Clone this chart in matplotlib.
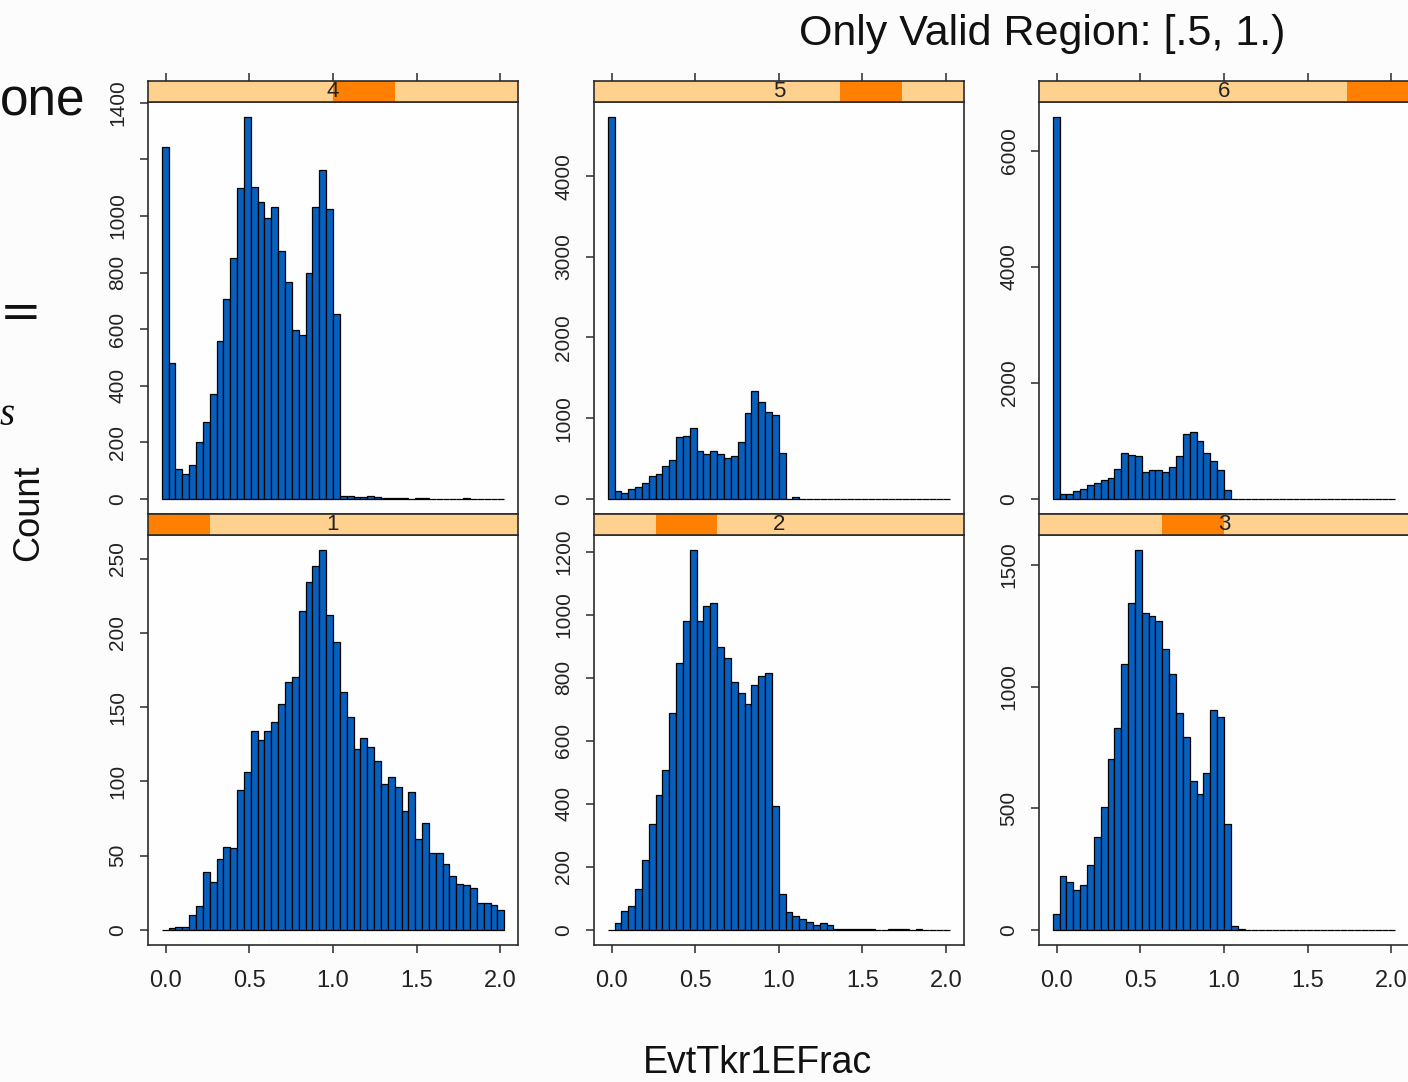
import numpy as np
import matplotlib
matplotlib.use("Agg")
import matplotlib.pyplot as plt
from matplotlib.patches import Rectangle

W, H, DPI = 1408, 1082, 100

# Histogram breaks shared by every panel: 50 equal-width bins
bin_lo, bin_hi, n_bins = -0.024, 2.024, 50

# Counts per bin for the six shingle levels of the conditioning variable
counts_1 = [0, 1, 2, 2, 10, 16, 39, 32, 48, 56,
            55, 94, 106, 134, 128, 134, 140, 152, 167, 170,
            215, 234, 245, 256, 212, 194, 160, 143, 122, 129,
            123, 114, 98, 103, 96, 80, 93, 61, 72, 52,
            52, 44, 36, 31, 30, 28, 18, 18, 17, 13]
counts_2 = [0, 21, 59, 76, 131, 221, 335, 427, 506, 687,
            847, 981, 1206, 981, 1026, 1036, 896, 861, 787, 751,
            716, 777, 806, 816, 392, 115, 55, 45, 35, 25,
            15, 20, 15, 3, 2, 3, 2, 3, 2, 0,
            0, 2, 3, 2, 0, 2, 0, 0, 0, 0]
counts_3 = [67, 222, 195, 162, 184, 267, 383, 507, 702, 831,
            1091, 1342, 1563, 1303, 1292, 1271, 1155, 1052, 890, 793,
            611, 558, 643, 904, 876, 435, 14, 5, 0, 0,
            0, 0, 0, 0, 0, 0, 0, 0, 0, 0,
            0, 0, 0, 0, 0, 0, 0, 0, 0, 0]
counts_4 = [1243, 480, 106, 88, 121, 200, 273, 369, 557, 708,
            852, 1098, 1349, 1104, 1048, 992, 1031, 876, 765, 597,
            580, 798, 1031, 1161, 1025, 652, 9, 9, 5, 5,
            9, 5, 1, 3, 3, 3, 0, 3, 3, 0,
            0, 0, 0, 0, 3, 0, 0, 0, 0, 0]
counts_5 = [4731, 95, 70, 116, 140, 194, 277, 310, 409, 483,
            760, 777, 880, 587, 550, 587, 550, 508, 525, 707,
            1058, 1331, 1194, 1074, 1033, 566, 0, 20, 0, 0,
            0, 0, 0, 0, 0, 0, 0, 0, 0, 0,
            0, 0, 0, 0, 0, 0, 0, 0, 0, 0]
counts_6 = [6580, 75, 75, 132, 167, 241, 276, 328, 356, 517,
            787, 759, 730, 454, 489, 489, 454, 540, 730, 1109,
            1144, 1000, 787, 649, 489, 155, 0, 0, 0, 0,
            0, 0, 0, 0, 0, 0, 0, 0, 0, 0,
            0, 0, 0, 0, 0, 0, 0, 0, 0, 0]

panel_levels = ["1", "2", "3", "4", "5", "6"]
x_ticks = [0.0, 0.5, 1.0, 1.5, 2.0]
x_tick_labels = ["0.0", "0.5", "1.0", "1.5", "2.0"]
y_ticks_1 = [0, 50, 100, 150, 200, 250]
y_ticks_2 = [0, 200, 400, 600, 800, 1000, 1200]
y_ticks_3 = [0, 500, 1000, 1500]
y_ticks_4 = [0, 200, 400, 600, 800, 1000, 1200, 1400]
y_labels_4 = ["0", "200", "400", "600", "800", "1000", "", "1400"]
y_ticks_5 = [0, 1000, 2000, 3000, 4000]
y_ticks_6 = [0, 2000, 4000, 6000]

title_text = "Only Valid Region: [.5, 1.)"
x_label = "EvtTkr1EFrac"
y_label = "Count"

BAR_BLUE = "#0860BE"
STRIP_LIGHT = "#FFD18F"
STRIP_DARK = "#FF8000"
FRAME = "#2b2b2b"
SANS = ["Liberation Sans", "DejaVu Sans"]
SERIF = ["Liberation Serif", "DejaVu Serif"]

edges = np.linspace(bin_lo, bin_hi, n_bins + 1)
pad = 0.04 * (bin_hi - bin_lo)
xlim = (bin_lo - pad, bin_hi + pad)

fig = plt.figure(figsize=(W / DPI, H / DPI), dpi=DPI, facecolor="#FCFCFC")


def px_rect(x0, y0, x1, y1):
    return [x0 / W, 1 - y1 / H, (x1 - x0) / W, (y1 - y0) / H]


cols = [(148, 518), (594, 963.5), (1039, 1409)]
rows = {
    "top": {"strip": (80.5, 102), "panel": (102, 514)},
    "bottom": {"strip": (514, 534.5), "panel": (534.5, 945)},
}

panels = [
    # (level index, counts, yticks, ylabels, row, col)
    (3, counts_4, y_ticks_4, y_labels_4, "top", 0),
    (4, counts_5, y_ticks_5, None, "top", 1),
    (5, counts_6, y_ticks_6, None, "top", 2),
    (0, counts_1, y_ticks_1, None, "bottom", 0),
    (1, counts_2, y_ticks_2, None, "bottom", 1),
    (2, counts_3, y_ticks_3, None, "bottom", 2),
]

tick_len = 8 * 72 / DPI

for lvl, counts, yt, yl, row, col in panels:
    x0, x1 = cols[col]
    sy0, sy1 = rows[row]["strip"]
    py0, py1 = rows[row]["panel"]

    ax = fig.add_axes(px_rect(x0, py0, x1, py1))
    ax.set_facecolor("#FEFEFE")
    counts = np.asarray(counts, dtype=float)
    ax.bar(edges[:-1], counts, width=np.diff(edges), align="edge",
           color=BAR_BLUE, edgecolor="black", linewidth=0.9)
    m = counts.max()
    ax.set_xlim(*xlim)
    ax.set_ylim(-0.04 * m, 1.04 * m)
    for s in ax.spines.values():
        s.set_color(FRAME)
        s.set_linewidth(1.2)

    ax.set_yticks(yt)
    ax.set_yticklabels(yl if yl is not None else [str(v) for v in yt],
                       rotation=90, va="center", family=SANS, fontsize=15,
                       color="#222222")
    ax.tick_params(axis="y", direction="out", length=tick_len, width=1.1,
                   color=FRAME, pad=9)

    ax.set_xticks(x_ticks)
    if row == "bottom":
        ax.set_xticklabels(x_tick_labels, family=SANS, fontsize=17,
                           color="#222222")
        ax.tick_params(axis="x", direction="out", length=tick_len, width=1.1,
                       color=FRAME, pad=12)
    else:
        ax.tick_params(axis="x", bottom=False, labelbottom=False)

    # Strip showing which shingle interval this panel belongs to
    sax = fig.add_axes(px_rect(x0, sy0, x1, sy1))
    sax.set_xlim(*xlim)
    sax.set_ylim(0, 1)
    sax.add_patch(Rectangle((0, 0), 1, 1, transform=sax.transAxes,
                            facecolor=STRIP_LIGHT, edgecolor="none"))
    sax.add_patch(Rectangle((lvl / 6, 0), 1 / 6, 1, transform=sax.transAxes,
                            facecolor=STRIP_DARK, edgecolor="none"))
    sax.text(0.5, 0.47, panel_levels[lvl], transform=sax.transAxes,
             ha="center", va="center", family=SANS, fontsize=16,
             color="#222222")
    for s in sax.spines.values():
        s.set_color(FRAME)
        s.set_linewidth(1.2)
    sax.set_yticks([])
    if row == "top":
        sax.set_xticks(x_ticks)
        sax.tick_params(axis="x", bottom=False, labelbottom=False, top=True,
                        labeltop=False, direction="out", length=tick_len,
                        width=1.1, color=FRAME)
    else:
        sax.set_xticks([])

# Axis titles and heading
fig.text(757 / W, 1 - 1073 / H, x_label, ha="center", va="baseline",
         family=SANS, fontsize=27, color="#111111")
fig.text(29 / W, 1 - 513 / H, y_label, ha="center", va="center",
         rotation=90, family=SANS, fontsize=26, color="#111111")
fig.text(1042 / W, 1 - 34 / H, title_text, ha="center", va="center",
         family=SANS, fontsize=31, color="#111111")

# Fragments of surrounding slide text at the left edge
fig.text(0 / W, 1 - 115 / H, "one", ha="left", va="baseline",
         family=SANS, fontsize=37, color="#111111")
fig.text(0 / W, 1 - 314 / H, "=", ha="left", va="center", rotation=0,
         family=["DejaVu Sans"], fontsize=36, color="#111111")
fig.text(0 / W, 1 - 425 / H, "s", ha="left", va="baseline",
         family=SERIF, style="italic", fontsize=28, color="#111111")

fig.savefig("out.png", dpi=DPI, facecolor=fig.get_facecolor())
